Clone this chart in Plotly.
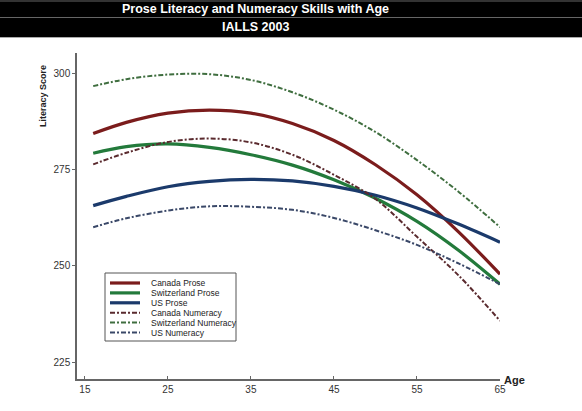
import plotly.graph_objects as go

ages = [16, 20, 25, 30, 35, 40, 45, 50, 55, 60, 65]

canada_prose = [284.3, 287.2, 289.6, 290.4, 289.6, 286.9, 282.5, 276.2, 268.4, 258.8, 247.8]
swiss_prose = [279.2, 280.9, 281.6, 280.7, 278.8, 276.1, 272.3, 267.5, 261.5, 254.0, 245.2]
us_prose = [265.6, 268.0, 270.5, 271.9, 272.4, 272.0, 270.6, 268.3, 265.0, 260.8, 256.1]
canada_num = [276.3, 279.3, 282.1, 283.0, 282.0, 278.8, 273.6, 267.3, 257.5, 247.5, 235.7]
swiss_num = [296.6, 298.4, 299.6, 299.7, 298.2, 295.0, 290.5, 284.7, 277.4, 269.2, 260.0]
us_num = [260.0, 262.3, 264.3, 265.4, 265.3, 264.5, 262.4, 259.2, 255.4, 250.6, 245.2]

x_ticks = [15, 25, 35, 45, 55, 65]
y_ticks = [225, 250, 275, 300]

W, H = 582, 411
L, R, T, B = 77, 82, 53, 32
pw, ph = W - L - R, H - T - B

# pixel -> paper helpers
def px_x(v):
    return (v - L) / pw

def px_y(v):
    return (H - B - v) / ph

DASH = "5px,2px,2px,2px"
series = [
    ("Canada Prose", canada_prose, "#7b1c1c", 3.2, "solid"),
    ("Switzerland Prose", swiss_prose, "#237a3b", 3.2, "solid"),
    ("US Prose", us_prose, "#1b3a6b", 3.2, "solid"),
    ("Canada Numeracy", canada_num, "#5a2a2e", 2, DASH),
    ("Switzerland Numeracy", swiss_num, "#3f6e3f", 2, DASH),
    ("US Numeracy", us_num, "#3a4868", 2, DASH),
]

fig = go.Figure()
for name, vals, col, w, dash in series:
    fig.add_trace(go.Scatter(x=ages, y=vals, name=name, mode="lines", showlegend=False,
                             line=dict(color=col, width=w, dash=dash, shape="spline", smoothing=1.0)))

# black title band
fig.add_shape(type="rect", xref="paper", yref="paper", x0=px_x(0), x1=px_x(W),
              y0=px_y(37), y1=px_y(0), fillcolor="black", line=dict(width=0))
for yy in [1, 17.5]:
    fig.add_shape(type="line", xref="paper", yref="paper", x0=px_x(0), x1=px_x(W),
                  y0=px_y(yy), y1=px_y(yy), line=dict(color="#666", width=1))
fig.add_shape(type="line", xref="paper", yref="paper", x0=px_x(0), x1=px_x(W),
              y0=px_y(37.5), y1=px_y(37.5), line=dict(color="#aaa", width=1))
fig.add_annotation(text="<b>Prose Literacy and Numeracy Skills with Age</b>", xref="paper", yref="paper",
                   x=px_x(255), y=px_y(9), xanchor="center", yanchor="middle", showarrow=False,
                   font=dict(color="white", size=12.5))
fig.add_annotation(text="<b>IALLS 2003</b>", xref="paper", yref="paper",
                   x=px_x(255), y=px_y(27), xanchor="center", yanchor="middle", showarrow=False,
                   font=dict(color="white", size=12.5))

fig.add_annotation(text="<b>Literacy Score</b>", xref="paper", yref="paper", textangle=-90,
                   x=px_x(43), y=px_y(96), xanchor="center", yanchor="middle", showarrow=False,
                   font=dict(color="#222", size=9))
fig.add_annotation(text="<b>Age</b>", xref="paper", yref="paper", xanchor="left", yanchor="middle",
                   x=px_x(502), y=px_y(380), showarrow=False, font=dict(color="#222", size=11))

# hand-drawn legend box (compact rows like the original)
fig.add_shape(type="rect", xref="paper", yref="paper", x0=px_x(105), x1=px_x(236),
              y0=px_y(341), y1=px_y(273), fillcolor="white", line=dict(color="#555", width=1))
for i, (name, vals, col, w, dash) in enumerate(series):
    yy = 283 + 9.9 * i
    fig.add_shape(type="line", xref="paper", yref="paper", x0=px_x(110), x1=px_x(140),
                  y0=px_y(yy), y1=px_y(yy), line=dict(color=col, width=w, dash=dash))
    fig.add_annotation(text=name, xref="paper", yref="paper", x=px_x(149), y=px_y(yy),
                       xanchor="left", yanchor="middle", showarrow=False,
                       font=dict(color="#222", size=8.5))

fig.update_layout(
    width=W, height=H,
    margin=dict(l=L, r=R, t=T, b=B),
    paper_bgcolor="white", plot_bgcolor="white",
    font=dict(family="Liberation Sans, Arial, sans-serif", color="#333", size=10),
    showlegend=False,
)
fig.update_xaxes(range=[14.05, 65], tickvals=x_ticks, showgrid=False, zeroline=False,
                 showline=True, linecolor="#666", linewidth=1.5, ticks="inside", ticklen=3,
                 tickcolor="#666")
fig.update_yaxes(range=[220.6, 305.2], tickvals=y_ticks, showgrid=False, zeroline=False,
                 showline=True, linecolor="#666", linewidth=1.5, ticks="outside", ticklen=3,
                 tickcolor="#666")

fig.write_html("out.html", config={"displayModeBar": False},
               post_script="document.body.style.margin='0';")
